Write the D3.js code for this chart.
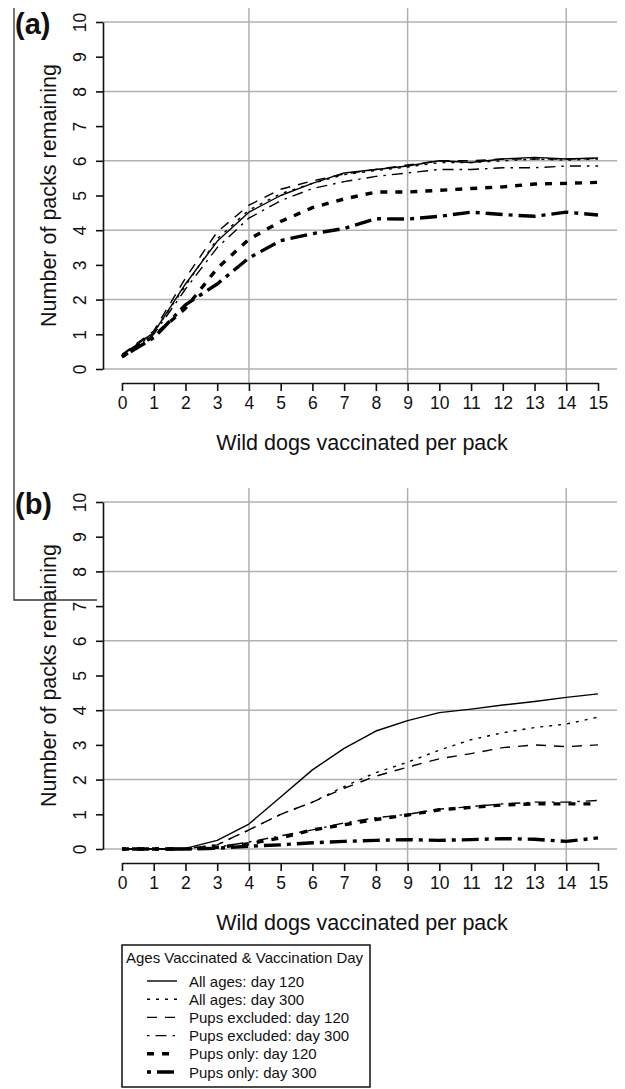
<!DOCTYPE html>
<html>
<head>
<meta charset="utf-8">
<script src="https://cdn.jsdelivr.net/npm/d3@7"></script>
<style>
  html, body { margin: 0; padding: 0; background: #fff; }
  svg { display: block; }
  text { font-family: "Liberation Sans", Arial, Helvetica, sans-serif; fill: #111; }
</style>
</head>
<body>
<svg id="chart" width="625" height="1089"></svg>
<script>
// ---------- data ----------
const dogsVaccinated = [0,1,2,3,4,5,6,7,8,9,10,11,12,13,14,15];
const xTicks = [0,1,2,3,4,5,6,7,8,9,10,11,12,13,14,15];
const yTicks = [0,1,2,3,4,5,6,7,8,9,10];
const xGrid = [4, 9, 14];
const yGrid = [0, 2, 4, 6, 8, 10];

const seriesNames = [
  "All ages: day 120",
  "All ages: day 300",
  "Pups excluded: day 120",
  "Pups excluded: day 300",
  "Pups only: day 120",
  "Pups only: day 300"
];

// panel (a)
const aAll120  = [0.40,1.05,2.45,3.68,4.52,5.00,5.35,5.65,5.75,5.85,6.00,5.95,6.05,6.10,6.05,6.08];
const aAll300  = [0.40,1.05,2.40,3.75,4.58,5.05,5.35,5.60,5.72,5.82,5.95,5.95,6.00,6.05,6.02,6.05];
const aExcl120 = [0.42,1.10,2.62,3.95,4.72,5.18,5.42,5.62,5.75,5.88,6.00,6.00,6.05,6.05,6.05,6.07];
const aExcl300 = [0.38,1.00,2.30,3.50,4.35,4.85,5.20,5.40,5.55,5.65,5.75,5.75,5.80,5.80,5.85,5.85];
const aPups120 = [0.35,0.95,1.75,2.90,3.74,4.25,4.65,4.90,5.10,5.10,5.15,5.20,5.25,5.33,5.35,5.38];
const aPups300 = [0.35,0.90,1.85,2.45,3.20,3.70,3.90,4.05,4.33,4.32,4.40,4.52,4.45,4.40,4.52,4.44];

// panel (b)
const bAll120  = [0,0,0.02,0.25,0.72,1.50,2.28,2.90,3.40,3.70,3.93,4.03,4.15,4.25,4.37,4.47];
const bAll300  = [0,0,0.01,0.12,0.55,1.00,1.35,1.80,2.20,2.50,2.85,3.15,3.35,3.50,3.60,3.80];
const bExcl120 = [0,0,0.01,0.12,0.55,1.00,1.35,1.75,2.10,2.36,2.60,2.75,2.92,3.00,2.95,3.00];
const bExcl300 = [0,0,0,0.05,0.20,0.38,0.55,0.75,0.90,1.00,1.15,1.22,1.30,1.35,1.35,1.40];
const bPups120 = [0,0,0,0.05,0.15,0.32,0.55,0.70,0.85,0.98,1.13,1.20,1.27,1.30,1.30,1.30];
const bPups300 = [0,0,0,0.02,0.08,0.12,0.18,0.22,0.25,0.27,0.25,0.27,0.30,0.28,0.22,0.32];

// ---------- styles ----------
const lineStyles = [
  { w: 1.4, dash: null },
  { w: 1.4, dash: "3,6" },
  { w: 1.4, dash: "10,8" },
  { w: 1.4, dash: "2.5,6,11,6" },
  { w: 3.4, dash: "7,8" },
  { w: 3.4, dash: "4,6,17,6" }
];

const svg = d3.select("#chart");
const x = d3.scaleLinear().domain([0, 15]).range([122, 598]);

function drawPanel(label, top, bottom, series) {
  const y = d3.scaleLinear().domain([0, 10]).range([bottom, top]);
  const g = svg.append("g");
  const gridTop = top - 14;
  const axisY = bottom + 14;

  // grid
  g.selectAll(".hg").data(yGrid).join("line")
    .attr("x1", 103).attr("x2", 617)
    .attr("y1", d => y(d)).attr("y2", d => y(d))
    .attr("stroke", "#b0b0b0").attr("stroke-width", 1.5);
  g.selectAll(".vg").data(xGrid).join("line")
    .attr("x1", d => x(d)).attr("x2", d => x(d))
    .attr("y1", gridTop).attr("y2", axisY)
    .attr("stroke", "#b0b0b0").attr("stroke-width", 1.5);

  // lines
  const line = d3.line().x((d, i) => x(dogsVaccinated[i])).y(d => y(d));
  series.forEach((s, k) => {
    g.append("path").datum(s)
      .attr("d", line)
      .attr("fill", "none")
      .attr("stroke", "#000")
      .attr("stroke-width", lineStyles[k].w)
      .attr("stroke-dasharray", lineStyles[k].dash)
      .attr("stroke-linejoin", "round");
  });

  // x axis
  const xa = g.append("g").attr("transform", `translate(0,${axisY})`)
    .call(d3.axisBottom(x).tickValues(xTicks).tickSize(8).tickSizeOuter(0).tickPadding(6).tickFormat(d3.format("d")));
  xa.select(".domain").attr("stroke", "#111").attr("stroke-width", 1.6);
  xa.selectAll(".tick line").attr("stroke", "#111").attr("stroke-width", 1.6);
  xa.selectAll(".tick text").attr("font-size", 17.5)
    .attr("font-family", '"Liberation Sans", Arial, sans-serif').attr("fill", "#111");

  // y axis
  const ya = g.append("g").attr("transform", `translate(103,0)`)
    .call(d3.axisLeft(y).tickValues(yTicks).tickSize(7).tickSizeOuter(0).tickFormat(d3.format("d")));
  ya.select(".domain").attr("stroke", "#111").attr("stroke-width", 1.6);
  ya.selectAll(".tick line").attr("stroke", "#111").attr("stroke-width", 1.6);
  ya.selectAll(".tick text")
    .attr("font-size", 17.5)
    .attr("font-family", '"Liberation Sans", Arial, sans-serif').attr("fill", "#111")
    .attr("x", null).attr("dy", null)
    .attr("text-anchor", "middle")
    .attr("transform", "translate(-17,0) rotate(-90)");

  // axis titles
  g.append("text")
    .attr("x", 362).attr("y", axisY + 67)
    .attr("text-anchor", "middle").attr("font-size", 21.5)
    .text("Wild dogs vaccinated per pack");
  g.append("text")
    .attr("transform", `translate(56,${(top + bottom) / 2}) rotate(-90)`)
    .attr("text-anchor", "middle").attr("font-size", 21.5)
    .text("Number of packs remaining");

  // panel label
  g.append("text")
    .attr("x", 15).attr("y", top + 12)
    .attr("font-size", 29).attr("font-weight", "bold")
    .text(label);
}

drawPanel("(a)", 22, 369, [aAll120, aAll300, aExcl120, aExcl300, aPups120, aPups300]);
drawPanel("(b)", 502, 849, [bAll120, bAll300, bExcl120, bExcl300, bPups120, bPups300]);

// left border artifact
svg.append("path")
  .attr("d", "M14,8V600H97")
  .attr("fill", "none").attr("stroke", "#333").attr("stroke-width", 1.3);

// legend
const lg = svg.append("g");
lg.append("rect").attr("x", 122).attr("y", 945).attr("width", 248).attr("height", 142)
  .attr("fill", "#fff").attr("stroke", "#111").attr("stroke-width", 1.5);
lg.append("text").attr("x", 126).attr("y", 963).attr("font-size", 15)
  .text("Ages Vaccinated & Vaccination Day");
const rowY = d3.scaleLinear().domain([0, 5]).range([981, 1072]);
seriesNames.forEach((name, k) => {
  lg.append("line")
    .attr("x1", 147).attr("x2", 177)
    .attr("y1", rowY(k)).attr("y2", rowY(k))
    .attr("stroke", "#000")
    .attr("stroke-width", lineStyles[k].w)
    .attr("stroke-dasharray", lineStyles[k].dash);
  lg.append("text").attr("x", 189).attr("y", rowY(k) + 5.5).attr("font-size", 15)
    .text(name);
});
</script>
</body>
</html>
